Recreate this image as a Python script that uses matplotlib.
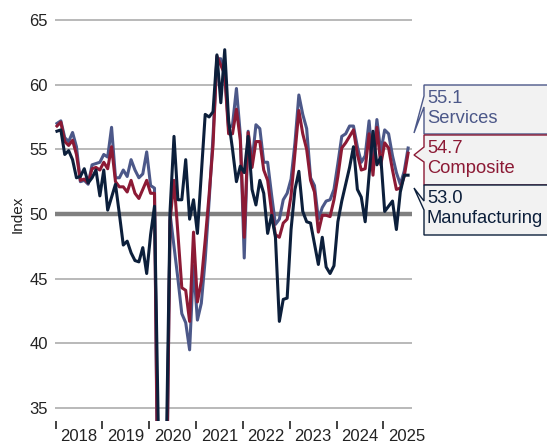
import numpy as np
import matplotlib
matplotlib.use("Agg")
import matplotlib.pyplot as plt
from matplotlib.patches import Polygon

plt.rcParams['font.family'] = ['Liberation Sans', 'DejaVu Sans']

# monthly PMI readings, Jan 2018 .. Jul 2025
manufacturing = [
    56.4, 56.5, 54.6, 54.9, 54.2, 52.8, 52.9, 53.5, 52.4, 52.8, 53.4, 51.4,
    53.4, 50.3, 51.3, 52.3, 50.0, 47.6, 47.9, 47.0, 46.4, 46.3, 47.4, 45.4,
    48.4, 50.6, 33.0, 27.0, 31.0, 50.3, 56.0, 51.1, 51.1, 54.2, 49.6, 51.1,
    48.5, 53.1, 57.7, 57.5, 57.9, 62.3, 58.6, 62.7, 57.2, 55.0, 52.5, 53.7,
    53.2, 56.0, 51.9, 50.7, 52.6, 51.6, 48.5, 49.9, 48.2, 41.7, 43.4, 43.5,
    48.8, 51.9, 53.3, 50.2, 49.4, 49.3, 47.7, 46.1, 48.2, 45.9, 45.4, 46.0,
    49.4, 51.0, 52.3, 53.6, 55.2, 51.9, 51.3, 49.4, 53.0, 56.4, 53.8, 54.4,
    50.2, 50.6, 51.0, 48.8, 51.7, 53.0, 53.0,
]
composite = [
    56.8, 57.1, 55.6, 55.3, 55.7, 54.6, 52.6, 52.7, 52.4, 53.5, 53.6, 53.4,
    54.0, 53.5, 55.2, 52.5, 52.1, 52.1, 51.7, 52.6, 51.6, 51.2, 51.9, 52.6,
    51.6, 51.6, 24.0, 12.0, 26.0, 49.5, 52.6, 48.5, 44.3, 44.1, 41.7, 48.6,
    43.2, 44.8, 48.0, 51.5, 55.3, 62.2, 61.5, 60.8, 56.2, 56.2, 58.1, 55.7,
    48.2, 56.3, 53.6, 55.6, 55.6, 53.4, 52.6, 50.2, 48.4, 48.2, 49.3, 49.6,
    51.4, 54.7, 58.0, 56.2, 55.0, 52.6, 51.7, 48.6, 49.9, 49.9, 49.8, 51.1,
    52.9, 55.1, 55.5, 56.0, 56.5, 54.6, 53.4, 53.5, 56.2, 53.0, 56.7, 53.8,
    55.5, 55.1, 53.4, 51.9, 52.0, 52.9, 54.7,
]
services = [
    57.0, 57.2, 55.9, 55.6, 56.3, 55.2, 52.5, 52.6, 52.3, 53.8, 53.9, 54.0,
    54.6, 54.4, 56.7, 52.8, 52.8, 53.4, 52.9, 54.2, 53.4, 52.8, 53.1, 54.8,
    52.2, 52.0, 22.0, 9.0, 25.0, 50.0, 47.5, 45.0, 42.3, 41.6, 39.5, 46.0,
    41.8, 43.1, 46.5, 51.0, 56.0, 62.0, 62.0, 61.0, 56.6, 56.9, 59.7, 56.1,
    46.6, 56.4, 54.0, 56.9, 56.6, 54.0, 54.0, 51.5, 49.2, 49.6, 51.1, 51.6,
    52.7, 55.5, 59.2, 57.7, 56.6, 52.8, 52.2, 49.6, 50.5, 51.0, 51.1, 51.9,
    53.9, 56.0, 56.2, 56.8, 56.8, 55.2, 54.0, 54.5, 57.2, 53.8, 57.3, 54.8,
    56.5, 56.2, 54.5, 53.2, 52.3, 53.3, 55.1,
]
years = ['2018', '2019', '2020', '2021', '2022', '2023', '2024', '2025']
y_ticks = [35, 40, 45, 50, 55, 60, 65]

c_serv = '#4c5889'
c_comp = '#8c1a35'
c_manu = '#0c1f3b'

W, H = 547, 447
fig = plt.figure(figsize=(W / 100, H / 100), dpi=100)
ax = fig.add_axes([55 / W, 1 - 421 / H, 357 / W, 414 / H])

months = np.arange(len(manufacturing))
ax.plot(months, services, color=c_serv, lw=2.2, zorder=3)
ax.plot(months, composite, color=c_comp, lw=2.2, zorder=4)
ax.plot(months, manufacturing, color=c_manu, lw=2.2, zorder=5)

ax.set_xlim(-0.5, 91.0)
ax.set_ylim(34, 66)

# horizontal grid, 50 line heavier
for v in y_ticks:
    if v == 50:
        ax.axhline(v, color='#808080', lw=3.2, zorder=2)
    else:
        ax.axhline(v, color='#a6a6a6', lw=1.1, zorder=1)

for s in ax.spines.values():
    s.set_visible(False)

ax.set_yticks(y_ticks)
ax.tick_params(axis='y', length=0, labelsize=12, pad=5, labelcolor='#222222')

# year boundaries as ticks, labels centred within each year
ax.set_xticks([12 * k - 0.35 for k in range(len(years))])
ax.set_xticklabels([])
ax.set_xticks([12 * k + 5.65 for k in range(len(years))], minor=True)
ax.set_xticklabels(years, minor=True)
ax.tick_params(axis='x', which='major', length=6, width=1.2, color='#222222', direction='out')
ax.tick_params(axis='x', which='minor', length=0, labelsize=12, pad=6, labelcolor='#222222')

ax.set_ylabel('Index', fontsize=11, color='#222222')
ax.yaxis.set_label_coords(-0.085, 0.5)


def fp(x, y):
    return (x / W, 1 - y / H)


# callout boxes: (top, bottom, wedge_top, wedge_bottom, tip_y, text, colour)
callouts = [
    (85, 134, 96, 107, 133, '55.1\nServices', c_serv),
    (135, 185, 147, 162, 155, '54.7\nComposite', c_comp),
    (185, 235, 201, 210, 188, '53.0\nManufacturing', c_manu),
]
for top, bot, wt, wb, tip, txt, col in callouts:
    pts = [fp(424, top), fp(560, top), fp(560, bot), fp(424, bot),
           fp(424, wb), fp(414, tip), fp(424, wt)]
    fig.add_artist(Polygon(pts, closed=True, transform=fig.transFigure,
                           facecolor='#f2f2f2', edgecolor=col, lw=1.0))
    fig.text(427 / W, 1 - (top + 5) / H, txt, color=col, fontsize=13.25,
             va='top', ha='left', linespacing=1.22)

fig.savefig('out.png', dpi=100)
